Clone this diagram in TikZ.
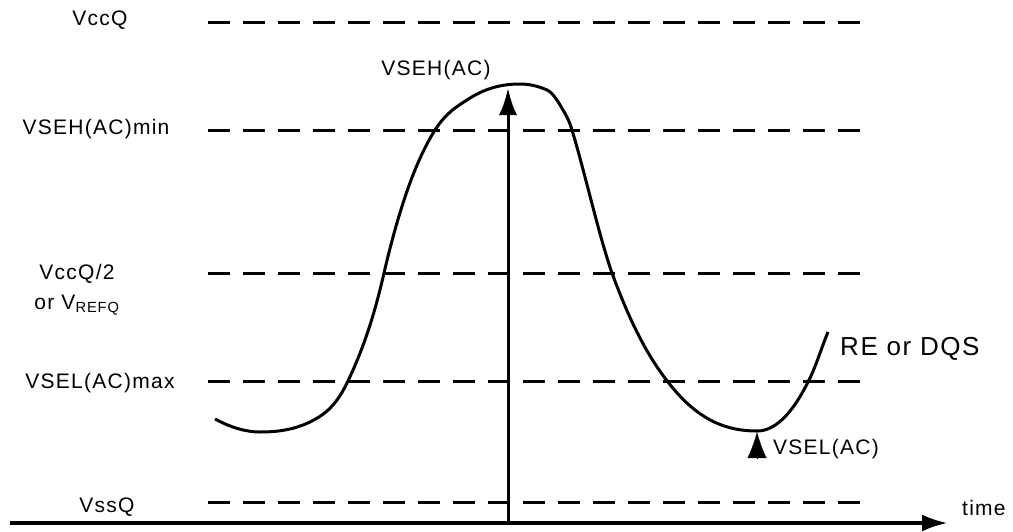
\documentclass[tikz,border=0pt]{standalone}
\usepackage{fontspec}
\setmainfont[LetterSpace=6]{Liberation Sans}
\usetikzlibrary{arrows.meta,positioning}

\begin{document}
\begin{tikzpicture}[>=Latex,x=1pt,y=-1pt,
  level/.style={line width=3pt,dash pattern=on 22pt off 13pt},
  lbl/.style={font=\fontsize{21}{30}\selectfont,inner sep=0pt}]
\useasboundingbox (0,0) rectangle (1013,531);
% level labels
\node[lbl] (vccq) at(100,20){VccQ};
\node[lbl] (vsehmin) at(96,129){VSEH(AC)min};
\node[lbl,align=center] (vref) at(77,290){VccQ/2\\or V\textsubscript{REFQ}};
\node[lbl] (vselmax) at(100,383){VSEL(AC)max};
\node[lbl] (vssq) at(107,507){VssQ};
% dashed levels
\draw[level] (208,22)--(862,22);
\draw[level] (208,130)--(862,130);
\draw[level] (208,273)--(862,273);
\draw[level] (208,381)--(862,381);
\draw[level] (208,502)--(862,502);
% time axis
\coordinate (t0) at(10,523);
\coordinate (t1) at(948,523);
\draw[line width=4pt,-{Latex[length=26pt,width=17pt]}] (t0)--(t1);
\node[lbl,anchor=west] (time) at(962,508){time};
% signal
\draw[line width=3pt] (215,419)
 .. controls (230,427) and (245,432) .. (260,432)
 .. controls (277,432) and (293,430) .. (310,422)
 .. controls (322,416) and (335,408) .. (347,383)
 .. controls (359,358) and (372,326) .. (384,273)
 .. controls (401,200) and (418,157) .. (435,130)
 .. controls (446,113) and (456,107) .. (467,100)
 .. controls (485,88) and (502,84) .. (520,84)
 .. controls (529,84) and (538,86) .. (547,90)
 .. controls (552,92) and (558,101) .. (563,110)
 .. controls (566,115) and (569,120) .. (572,130)
 .. controls (585,173) and (599,236) .. (612,273)
 .. controls (631,325) and (649,358) .. (668,382)
 .. controls (698,421) and (727,431) .. (757,431)
 .. controls (774,431) and (791,416) .. (808,382)
 .. controls (815,369) and (821,349) .. (828,332);
\node[font=\fontsize{26}{30}\selectfont,inner sep=0pt,anchor=west] (sig) at(840,349){RE or DQS};
% peak and valley
\coordinate (pk0) at(508,523);
\coordinate (pk) at(508,88);
\draw[line width=3pt,-{Latex[length=27pt,width=18pt]}] (pk0)--(pk);
\node[lbl] (vseh) at(436,70){VSEH(AC)};
\coordinate (vl0) at(757,458);
\coordinate (vl) at(757,432);
\draw[line width=0.1pt,-{Latex[length=26pt,width=19pt]}] (vl0)--(vl);
\node[lbl,anchor=west] (vsel) at(773,449){VSEL(AC)};
\end{tikzpicture}
\end{document}
